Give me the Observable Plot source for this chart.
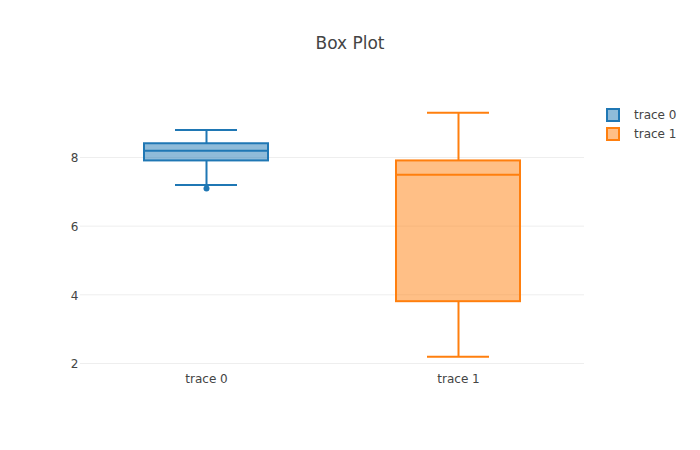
<!DOCTYPE html>
<html>
<head>
<meta charset="utf-8">
<script src="https://cdn.jsdelivr.net/npm/d3@7"></script>
<script src="https://cdn.jsdelivr.net/npm/@observablehq/plot@0.6"></script>
<style>
  body { margin: 0; background: #fff; font-family: "DejaVu Sans", sans-serif; }
  #wrap { position: relative; width: 700px; height: 450px; }
  #title { position: absolute; left: 0; width: 700px; top: 33px; text-align: center; font-size: 17px; color: #444; }
  #legend { position: absolute; left: 606px; top: 105px; font-size: 12px; color: #444; }
  .item { display: flex; align-items: center; height: 19px; }
  .sw { width: 10px; height: 10px; border: 2px solid; margin-right: 14px; }
</style>
</head>
<body>
<div id="wrap">
  <div id="title">Box Plot</div>
  <div id="legend"></div>
</div>
<script>
const traces = ["trace 0", "trace 1"];
const colors = ["#1f77b4", "#ff7f0e"];
const lowerFence = [7.2, 2.2];
const q1 = [7.9, 3.8];
const median = [8.2, 7.5];
const q3 = [8.4, 7.9];
const upperFence = [8.8, 9.3];
const outliers = [{trace: "trace 0", value: 7.1}];
const yTicks = [2, 4, 6, 8];

const boxes = traces.map((t, i) => ({
  trace: t, color: colors[i], lo: lowerFence[i], q1: q1[i], med: median[i], q3: q3[i], hi: upperFence[i]
}));

const colorOf = Object.fromEntries(traces.map((t, i) => [t, colors[i]]));

const chart = Plot.plot({
  width: 700,
  height: 450,
  marginTop: 100,
  marginBottom: 80,
  marginLeft: 80,
  marginRight: 116,
  style: { fontFamily: "'DejaVu Sans', sans-serif", fontSize: "12px", color: "#444", background: "transparent" },
  x: { type: "band", domain: traces, padding: 0, label: null },
  y: { domain: [1.796, 9.66], label: null },
  marks: [
    Plot.gridY(yTicks, { stroke: "#eee", strokeOpacity: 1 }),
    Plot.axisY(yTicks, { tickSize: 0, tickPadding: 2, fill: "#444", fontSize: 12, dy: 1 }),
    Plot.axisX({ tickSize: 0, tickPadding: 4, fill: "#444", fontSize: 12 }),
    Plot.ruleX(boxes, { x: "trace", y1: "q3", y2: "hi", stroke: "color", strokeWidth: 2 }),
    Plot.ruleX(boxes, { x: "trace", y1: "lo", y2: "q1", stroke: "color", strokeWidth: 2 }),
    Plot.tickY(boxes, { x: "trace", y: "hi", stroke: "color", strokeWidth: 2, insetLeft: 95, insetRight: 95 }),
    Plot.tickY(boxes, { x: "trace", y: "lo", stroke: "color", strokeWidth: 2, insetLeft: 95, insetRight: 95 }),
    Plot.barY(boxes, { x: "trace", y1: "q1", y2: "q3", fill: "color", fillOpacity: 0.5, stroke: "color", strokeWidth: 2, insetLeft: 64, insetRight: 64 }),
    Plot.tickY(boxes, { x: "trace", y: "med", stroke: "color", strokeWidth: 2, insetLeft: 64, insetRight: 64 }),
    Plot.dot(outliers, { x: "trace", y: "value", r: 3, fill: d => colorOf[d.trace], stroke: "none" })
  ]
});
document.getElementById("wrap").prepend(chart);
chart.style.position = "absolute";
chart.style.left = "0";
chart.style.top = "0";

const legend = document.getElementById("legend");
traces.forEach((t, i) => {
  const item = document.createElement("div");
  item.className = "item";
  const sw = document.createElement("div");
  sw.className = "sw";
  sw.style.borderColor = colors[i];
  sw.style.background = d3.color(colors[i]).copy({opacity: 0.5}).formatRgb();
  const label = document.createElement("span");
  label.textContent = t;
  item.append(sw, label);
  legend.append(item);
});
</script>
</body>
</html>
